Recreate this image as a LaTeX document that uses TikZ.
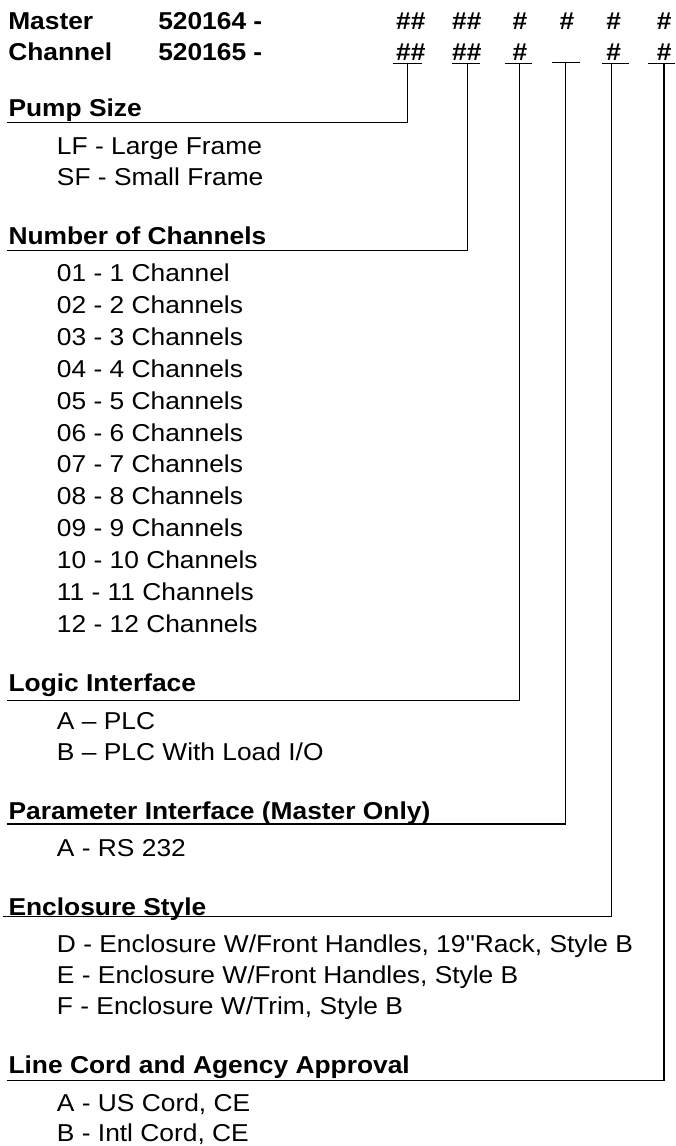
\documentclass[tikz,border=0pt]{standalone}
\usepackage{fontspec}
\newfontfamily\arialfont{Liberation Sans}[FakeStretch=1.08]
\tikzset{
  head/.style={font=\arialfont\bfseries\fontsize{18.3}{22}\selectfont, anchor=base west, inner sep=0pt},
  code/.style={font=\arialfont\bfseries\fontsize{18.3}{22}\selectfont, anchor=base, inner sep=0pt},
  item/.style={font=\arialfont\fontsize{18.3}{22}\selectfont, anchor=base west, inner sep=0pt},
  rule/.style={line width=1pt}
}
\begin{document}
\begin{tikzpicture}[x=0.75pt, y=-0.75pt]
    \useasboundingbox (0,0) rectangle (675,1146);

    % underline of each code field
    \coordinate (U1) at (407.7,63.3);
    \coordinate (U2) at (467.3,63.3);
    \coordinate (U3) at (519.3,63.3);
    \coordinate (U4) at (565.7,62.3);
    \coordinate (U5) at (611.5,63.3);
    \coordinate (U6) at (664,63.3);

    % corner of each heading line
    \coordinate (H1) at (407.7,122.3);
    \coordinate (H2) at (467.3,250.5);
    \coordinate (H3) at (519.3,700.7);
    \coordinate (H4) at (565.7,824);
    \coordinate (H5) at (611.5,916.7);
    \coordinate (H6) at (664,1080.7);

    % start of each heading line
    \coordinate (L1) at (7,122.3);
    \coordinate (L2) at (7,250.5);
    \coordinate (L3) at (7,700.7);
    \coordinate (L4) at (7,824);
    \coordinate (L5) at (3.3,916.7);
    \coordinate (L6) at (7,1080.7);

    \draw[rule] (U1) ++(-15,0) -- ++(29,0);
    \draw[rule] (U2) ++(-15,0) -- ++(28,0);
    \draw[rule] (U3) ++(-14,0) -- ++(27,0);
    \draw[rule] (U4) ++(-14,0) -- ++(28,0);
    \draw[rule] (U5) ++(-10,0) -- ++(27,0);
    \draw[rule] (U6) ++(-16,0) -- ++(27,0);

    \draw[rule] (L1) -- (H1) -- (U1);
    \draw[rule] (L2) -- (H2) -- (U2);
    \draw[rule] (L3) -- (H3) -- (U3);
    \draw[rule] (L4) -- (H4) -- (U4);
    \draw[rule] (L5) -- (H5) -- (U5);
    \draw[rule] (L6) -- (H6) -- (U6);

    \node[head] (master) at (8,29.3) {Master};
    \node[head] (channel) at (8,60) {Channel};
    \node[head] (masterno) at (158,29.3) {520164 -};
    \node[head] (channelno) at (158,60) {520165 -};

    \node[code] (m1) at (410.8,29.3) {\#\#};
    \node[code] (m2) at (466.8,29.3) {\#\#};
    \node[code] (m3) at (520,29.3) {\#};
    \node[code] (m4) at (567,29.3) {\#};
    \node[code] (m5) at (613.7,29.3) {\#};
    \node[code] (m6) at (664.2,29.3) {\#};
    \node[code] (c1) at (410.8,60) {\#\#};
    \node[code] (c2) at (466.8,60) {\#\#};
    \node[code] (c3) at (520,60) {\#};
    \node[code] (c5) at (613.7,60) {\#};
    \node[code] (c6) at (664.2,60) {\#};

    \node[head] (size) at (8.3,116.7) {Pump Size};
    \node[item] (lf) at (56.7,154) {LF - Large Frame};
    \node[item] (sf) at (56.7,185) {SF - Small Frame};

    \node[head] (count) at (8.3,244) {Number of Channels};
    \node[item] (n01) at (56.7,281.7) {01 - 1 Channel};
    \node[item] (n02) at (56.7,313.6) {02 - 2 Channels};
    \node[item] (n03) at (56.7,345.4) {03 - 3 Channels};
    \node[item] (n04) at (56.7,377.3) {04 - 4 Channels};
    \node[item] (n05) at (56.7,409.2) {05 - 5 Channels};
    \node[item] (n06) at (56.7,441.0) {06 - 6 Channels};
    \node[item] (n07) at (56.7,472.9) {07 - 7 Channels};
    \node[item] (n08) at (56.7,504.8) {08 - 8 Channels};
    \node[item] (n09) at (56.7,536.7) {09 - 9 Channels};
    \node[item] (n10) at (56.7,568.5) {10 - 10 Channels};
    \node[item] (n11) at (56.7,600.4) {11 - 11 Channels};
    \node[item] (n12) at (56.7,632.3) {12 - 12 Channels};

    \node[head] (logic) at (8.3,691.7) {Logic Interface};
    \node[item] (plc) at (56.7,729.3) {A \textendash{} PLC};
    \node[item] (plcio) at (56.7,760.8) {B \textendash{} PLC With Load I/O};

    \node[head] (param) at (8.3,819.3) {Parameter Interface (Master Only)};
    \node[item] (rs) at (56.7,856.7) {A - RS 232};

    \node[head] (encl) at (8.3,915) {Enclosure Style};
    \node[item] (rack) at (56.7,952.7) {D - Enclosure W/Front Handles, 19"Rack, Style B};
    \node[item] (handles) at (56.7,983.5) {E - Enclosure W/Front Handles, Style B};
    \node[item] (trim) at (56.7,1014.3) {F - Enclosure W/Trim, Style B};

    \node[head] (cord) at (8.3,1073.3) {Line Cord and Agency Approval};
    \node[item] (us) at (56.7,1111.7) {A - US Cord, CE};
    \node[item] (intl) at (56.7,1141.7) {B - Intl Cord, CE};
  \end{tikzpicture}
\end{document}
